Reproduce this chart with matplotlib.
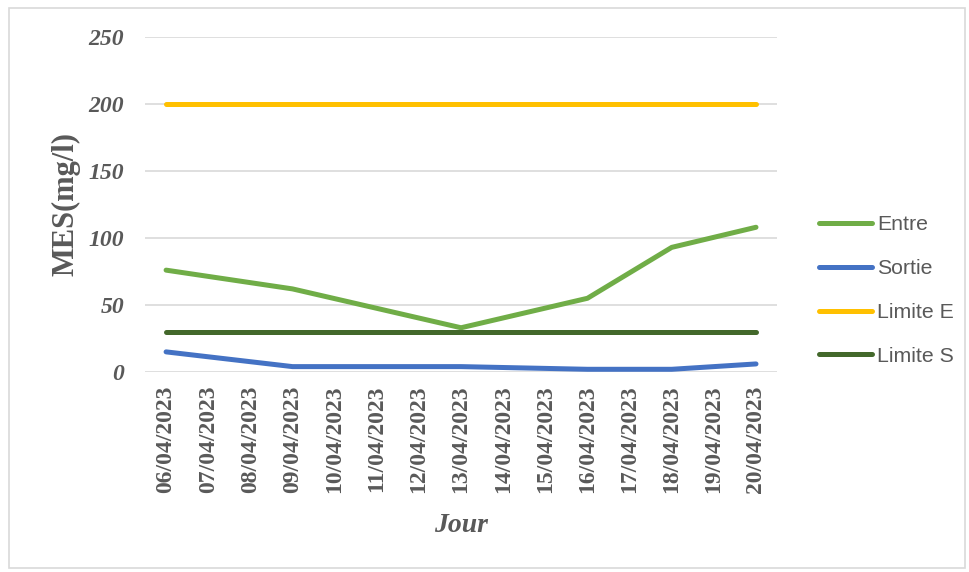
import matplotlib.pyplot as plt
from matplotlib.patches import Rectangle

# Data
jours = ['06/04/2023', '07/04/2023', '08/04/2023', '09/04/2023', '10/04/2023',
         '11/04/2023', '12/04/2023', '13/04/2023', '14/04/2023', '15/04/2023',
         '16/04/2023', '17/04/2023', '18/04/2023', '19/04/2023', '20/04/2023']
jours_mesure = ['06/04/2023', '09/04/2023', '13/04/2023', '16/04/2023', '18/04/2023', '20/04/2023']
entre = [76, 62, 33, 55, 93, 108]
sortie = [15, 4, 4, 2, 2, 6]
limite_e = 200
limite_s = 30

x_mes = [jours.index(j) for j in jours_mesure]
x_lim = [0, len(jours) - 1]

gray = '#595959'
fig = plt.figure(figsize=(9.7, 5.72), dpi=100)
ax = fig.add_axes([0.1495, 0.3497, 0.6516, 0.5856])

ax.plot(x_mes, entre, color='#70AD47', lw=3.6, solid_capstyle='round', solid_joinstyle='round', label='Entre')
ax.plot(x_mes, sortie, color='#4472C4', lw=3.6, solid_capstyle='round', solid_joinstyle='round', label='Sortie')
ax.plot(x_lim, [limite_e, limite_e], color='#FFC000', lw=3.6, solid_capstyle='round', label='Limite E')
ax.plot(x_lim, [limite_s, limite_s], color='#43682B', lw=3.6, solid_capstyle='round', label='Limite S')

ax.set_xlim(-0.5, len(jours) - 0.5)
ax.set_ylim(0, 250)
ax.set_yticks([0, 50, 100, 150, 200, 250])
ax.grid(axis='y', color='#D9D9D9', lw=1.2)
ax.set_axisbelow(True)
for s in ax.spines.values():
    s.set_visible(False)
ax.tick_params(length=0)

ax.set_xticks(range(len(jours)))
ax.set_xticklabels(jours, rotation=90, family='Liberation Serif', fontweight='bold',
                   fontsize=17, color=gray)
for lab in ax.get_yticklabels():
    lab.set_family('Liberation Serif')
    lab.set_fontweight('bold')
    lab.set_style('italic')
    lab.set_fontsize(17)
    lab.set_color(gray)
ax.tick_params(axis='y', pad=15)
ax.tick_params(axis='x', pad=10)

ax.set_ylabel('MES(mg/l)', family='Liberation Serif', fontweight='bold', fontsize=22,
              color=gray, labelpad=6)
ax.set_xlabel('Jour', family='Liberation Serif', fontweight='bold', style='italic',
              fontsize=20, color=gray, labelpad=14)

leg = ax.legend(loc='center left', bbox_to_anchor=(1.036, 0.243), frameon=False,
                prop={'family': 'Liberation Sans', 'size': 15.3}, labelcolor=gray,
                handlelength=2.5, handletextpad=0.25, labelspacing=1.17)

fig.patches.append(Rectangle((9 / 970, 4 / 572), 956 / 970, 560 / 572, transform=fig.transFigure,
                             fill=False, edgecolor='#D9D9D9', lw=1.2))

plt.savefig('out.png', dpi=100)
